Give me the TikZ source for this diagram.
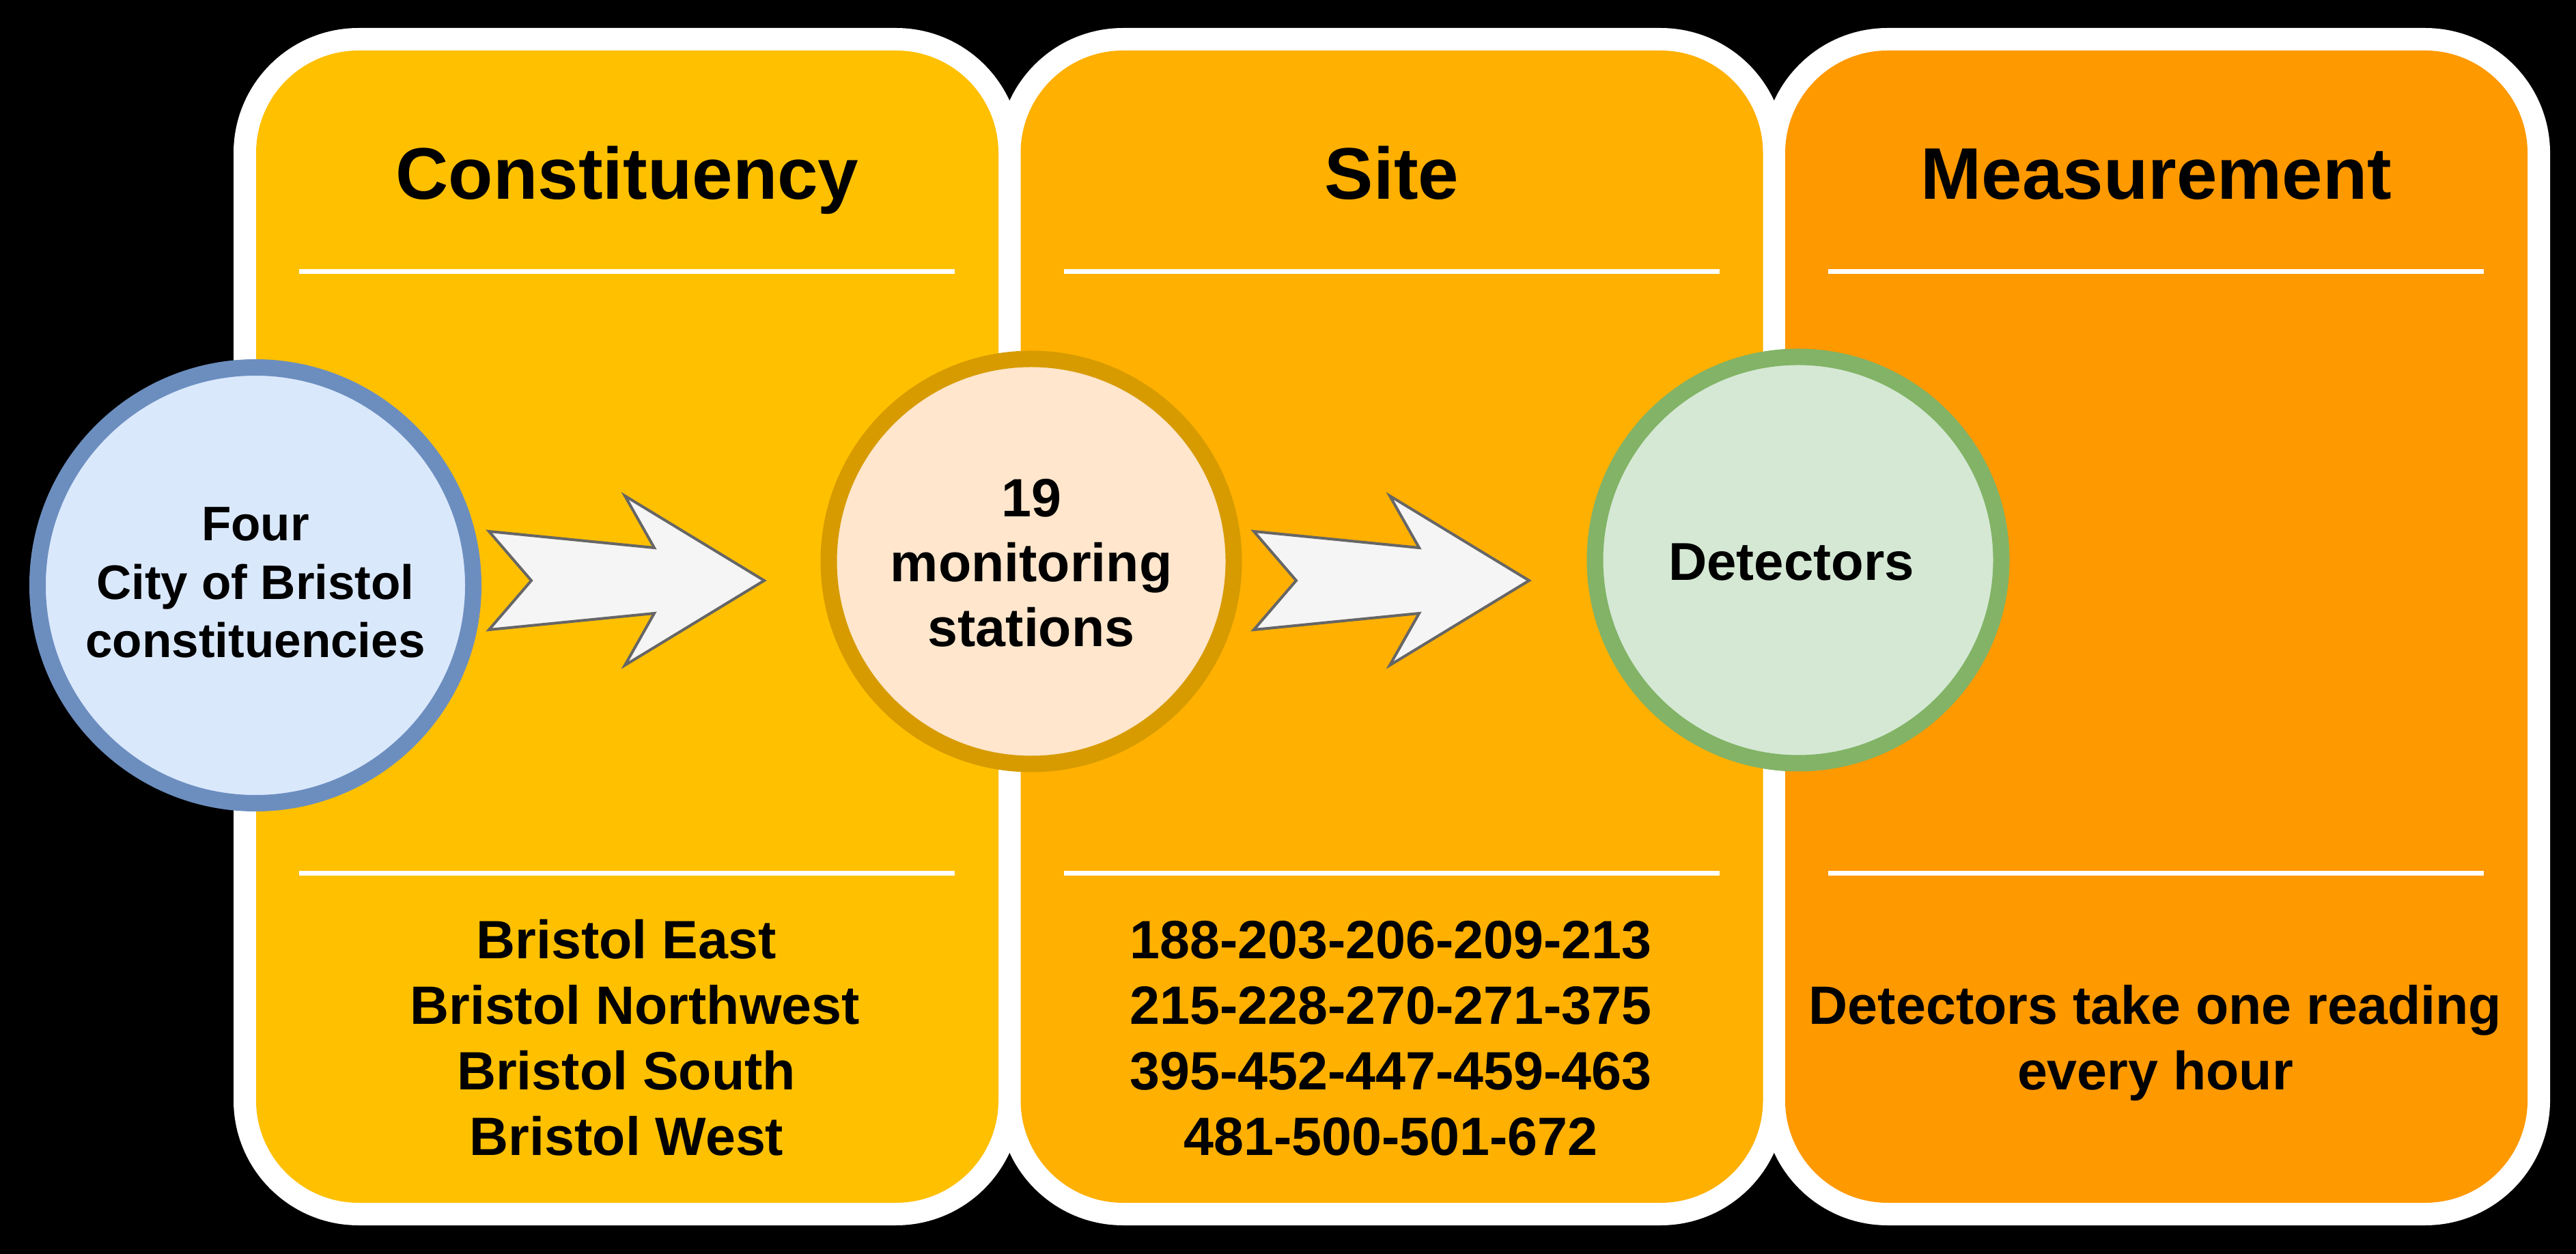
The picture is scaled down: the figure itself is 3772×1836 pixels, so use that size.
\documentclass[tikz,border=0pt]{standalone}
\usepackage{fontspec}
\setmainfont{Liberation Sans}
\definecolor{pA}{HTML}{FFC000}
\definecolor{pB}{HTML}{FFB000}
\definecolor{pC}{HTML}{FF9900}
\definecolor{cAfill}{HTML}{DAE8FC}
\definecolor{cAline}{HTML}{6C8EBF}
\definecolor{cBfill}{HTML}{FFE6CC}
\definecolor{cBline}{HTML}{D79B00}
\definecolor{cCfill}{HTML}{D5E8D4}
\definecolor{cCline}{HTML}{82B366}
\definecolor{arrowfill}{HTML}{F5F5F5}
\definecolor{arrowline}{HTML}{666666}
\begin{document}
\begin{tikzpicture}[x=0.2pt,y=-0.2pt,
  sepline/.style={white, line width=1.4pt},
  titletext/.style={font=\fontsize{21.4}{25}\selectfont\bfseries, anchor=base, inner sep=0pt},
  bodytext/.style={font=\fontsize{15.8}{19}\selectfont\bfseries, anchor=base, inner sep=0pt},
  smalltext/.style={font=\fontsize{14.2}{17}\selectfont\bfseries, anchor=base, inner sep=0pt},
  bubble/.style={circle, inner sep=0pt, line width=4.8pt},
  bigarrow/.style={fill=arrowfill, draw=arrowline, line width=0.8pt, line join=miter}]
% background
\fill[black] (0,0) rectangle (3772,1836);
\useasboundingbox (0,0) rectangle (3772,1836);
% panels: white frames
\foreach \L in {375,1494.5,2614}{
  \fill[white, rounded corners=36.6pt] (\L-33,41) rectangle (\L+1120,1794);
}
% panels: coloured fills and separators
\foreach \L/\c in {375/pA,1494.5/pB,2614/pC}{
  \fill[\c, rounded corners=30pt] (\L,74) rectangle (\L+1087,1761);
  \draw[sepline] (\L+63,397.5) -- (\L+1023,397.5);
  \draw[sepline] (\L+63,1278) -- (\L+1023,1278);
}
% titles
\node[titletext] (t1) at (918.5,292) {Constituency};
\node[titletext] (t2) at (2038,292) {Site};
\node[titletext] (t3) at (3157.5,292) {Measurement};
% arrows
\coordinate (a1) at (716,850);
\coordinate (a2) at (1836,850);
\foreach \a in {a1,a2}{
  \draw[bigarrow, shift={(\a)}] (0,-72) -- (242,-48) -- (199,-124) -- (403,0)
     -- (199,124) -- (242,48) -- (0,72) -- (62,0) -- cycle;
}
% circles
\node[bubble, fill=cAfill, draw=cAline, minimum size=127.6pt] (c1) at (374,857) {};
\node[bubble, fill=cBfill, draw=cBline, minimum size=118.6pt] (c2) at (1510,822) {};
\node[bubble, fill=cCfill, draw=cCline, minimum size=119.0pt] (c3) at (2633,820) {};
% circle texts
\node[smalltext] (c1a) at (374,792) {Four};
\node[smalltext] (c1b) at (374,878) {City of Bristol};
\node[smalltext] (c1c) at (374,963) {constituencies};
\node[bodytext] (c2a) at (1510,757) {19};
\node[bodytext] (c2b) at (1510,852) {monitoring};
\node[bodytext] (c2c) at (1510,947) {stations};
\node[bodytext, font=\fontsize{15.6}{19}\selectfont\bfseries] (c3a) at (2623,850) {Detectors};
% bottom lists
\node[bodytext] (b1a) at (917,1403) {Bristol East};
\node[bodytext] (b1b) at (929.5,1499) {Bristol Northwest};
\node[bodytext] (b1c) at (917,1595.5) {Bristol South};
\node[bodytext] (b1d) at (917.5,1691) {Bristol West};
\node[bodytext] (b2a) at (2036.5,1403) {188-203-206-209-213};
\node[bodytext] (b2b) at (2036.5,1499) {215-228-270-271-375};
\node[bodytext] (b2c) at (2036.5,1595.5) {395-452-447-459-463};
\node[bodytext] (b2d) at (2036.5,1691) {481-500-501-672};
\node[bodytext] (b3a) at (3156,1499) {Detectors take one reading};
\node[bodytext] (b3b) at (3156,1595.5) {every hour};
\end{tikzpicture}
\end{document}
